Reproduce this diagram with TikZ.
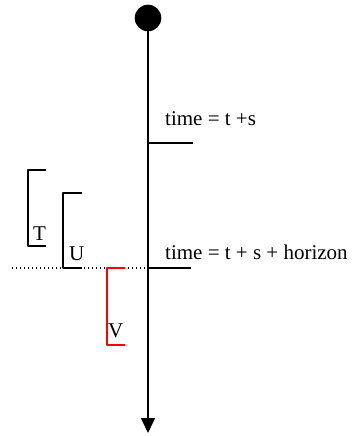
\documentclass[tikz,border=0pt]{standalone}
\usepackage{fontspec}
\setmainfont{Liberation Serif}
\usetikzlibrary{arrows.meta}
\begin{document}
\begin{tikzpicture}[x=1pt,y=1pt,line join = round,>={Triangle[length=15pt,width=14pt]},
  bar/.style={line width=1.6pt},
  lbl/.style={inner sep=0pt,anchor=base west,font=\fontsize{21}{25}\selectfont}]
				\useasboundingbox (0,0) rectangle (352,-436);
				\node[circle,fill,inner sep=0pt,minimum size=26.6pt] (start) at (148,-18) {};
				\coordinate (end) at (148,-433);
				\draw[bar,->] (start) -- (end);
				% time marks
				\coordinate (ts) at (148,-143);
				\coordinate (tsh) at (148,-268);
				\draw[bar] (ts) -- ++(45,0);
				\draw[bar] (tsh) -- ++(43,0);
				\node[lbl] (tslabel) at (165,-125) {time = t +s};
				\node[lbl] (tshlabel) at (165,-259) {time = t + s + horizon};
				\coordinate (dotstart) at (12,-268);
				\draw[line width=1.2pt,dash pattern=on 1.2pt off 2.8pt] (dotstart) -- (tsh);
				% brackets
				\draw[bar] (46,-170) -- (28,-170) -- (28,-246) -- (46,-246);
				\draw[bar] (82,-193) -- (63,-193) -- (63,-268) -- (82,-268);
				\draw[bar,red] (125,-268) -- (107,-268) -- (107,-345) -- (125,-345);
				\node[lbl] (T) at (33,-240) {T};
				\node[lbl] (U) at (69,-260) {U};
				\node[lbl] (V) at (108,-337) {V};
			\end{tikzpicture}
\end{document}
